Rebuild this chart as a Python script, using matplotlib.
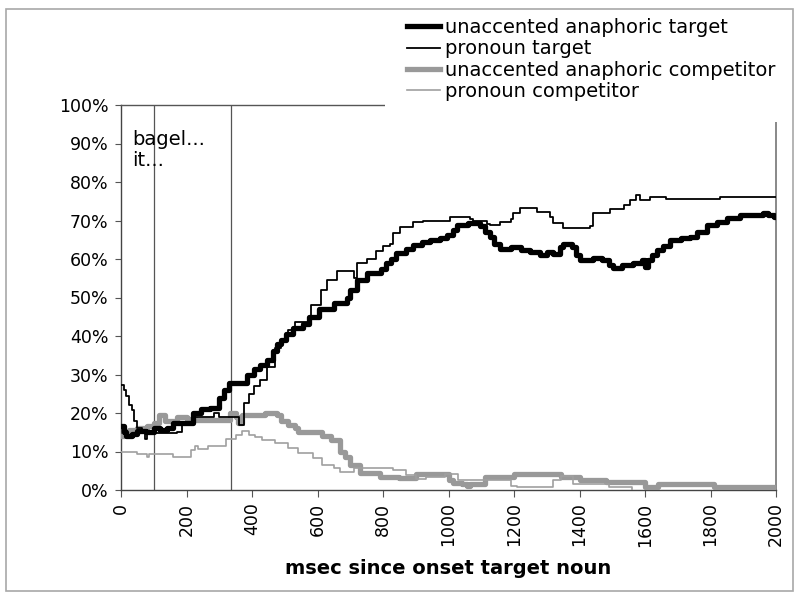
import matplotlib
matplotlib.use("Agg")
import matplotlib.pyplot as plt
from matplotlib.patches import Rectangle
from matplotlib.ticker import FuncFormatter

# ---- data (msec, percent); step functions ----
uaa_target_t = [0, 8, 15, 35, 50, 75, 100, 120, 140, 160, 220, 245, 272, 300, 315, 330, 385, 405, 425, 445,
                465, 475, 490, 505, 525, 555, 575, 605, 650, 690, 700, 720, 750, 795, 810, 825, 840, 870, 892,
                920, 943, 975, 995, 1015, 1026, 1060, 1096, 1110, 1127, 1140, 1157, 1190, 1220, 1250, 1279,
                1300, 1320, 1340, 1350, 1377, 1390, 1401, 1440, 1470, 1490, 1502, 1530, 1563, 1590, 1600,
                1608, 1620, 1636, 1656, 1676, 1710, 1737, 1760, 1789, 1820, 1850, 1890, 1960, 1975, 1995, 2000]
uaa_target_v = [16.5, 15, 14, 14.5, 15.2, 15, 16, 15.5, 16, 17.5, 20, 21, 21.3, 24, 26, 27.8, 30, 31.5, 32.5, 33.8,
                36, 38, 39, 40.5, 42, 43, 45, 47, 48.5, 50, 52, 54.5, 56.3, 57.5, 59, 60, 61.5, 62.5, 63.6,
                64.3, 65, 65.5, 66.2, 67.5, 68.8, 69.3, 68.5, 67, 65.7, 64, 62.5, 63, 62.3, 61.8, 61,
                61.7, 61.3, 63, 64, 63, 61, 59.7, 60.3, 59.7, 58.5, 57.6, 58.5, 59, 59.7, 57.8,
                59.7, 61, 62.3, 63.5, 65, 65.5, 65.7, 67, 68.8, 69.5, 70.6, 71.5, 72, 71.5, 71, 71]

pron_target_t = [0, 8, 15, 25, 33, 40, 48, 65, 72, 80, 88, 170, 185, 220, 285, 300, 333, 360, 375, 390, 405,
                 425, 445, 470, 490, 510, 530, 580, 610, 630, 660, 710, 720, 750, 780, 800, 820, 831, 852, 892,
                 922, 943, 1005, 1066, 1076, 1117, 1127, 1157, 1190, 1198, 1218, 1269, 1310, 1320, 1351, 1432,
                 1442, 1494, 1535, 1555, 1573, 1585, 1614, 1665, 1828, 2000]
pron_target_v = [27.3, 26, 24.5, 22, 20.8, 18, 16, 15.5, 13.2, 15, 14.8, 15, 17, 19, 20, 19, 19, 17, 22.6, 25, 27,
                 28.6, 32, 37, 39, 41.5, 43.6, 48, 52, 54.5, 57, 55, 59, 60, 62, 63.5, 64, 66.7, 68.3, 69.6,
                 69.8, 70, 71, 70.5, 70, 69, 68.8, 69.6, 70.5, 72, 73.2, 72.2, 71, 69.3, 68, 68.5,
                 72, 73, 74, 75.3, 76.6, 75.3, 76, 75.6, 76, 76]

uaa_comp_t = [0, 10, 25, 50, 80, 100, 115, 135, 170, 200, 230, 333, 350, 358, 370, 440, 475, 490, 510, 530,
              540, 615, 640, 670, 685, 700, 730, 790, 850, 900, 1000, 1015, 1040, 1055, 1065, 1110, 1200,
              1345, 1400, 1480, 1600, 1640, 1810, 2000]
uaa_comp_v = [14, 15, 15.5, 16, 16.5, 17.5, 19.5, 18, 19, 18.5, 18.2, 20, 19, 17.4, 19.4, 20, 19.5, 18, 17, 16,
              15, 14, 13, 10, 8.5, 6.5, 4.4, 3.5, 3, 4.1, 2.5, 1.8, 1.6, 1, 1.6, 3.4, 4.1,
              3.4, 2.6, 2.2, 0.9, 1.5, 0.9, 0.9]

pron_comp_t = [0, 50, 78, 85, 160, 215, 225, 235, 265, 320, 350, 370, 390, 410, 430, 470, 510, 540, 585, 615,
               650, 670, 710, 830, 870, 900, 930, 990, 1030, 1190, 1210, 1320, 1345, 1380, 1490, 1560]
pron_comp_v = [9.9, 9.3, 8.5, 9.3, 8.6, 10.5, 11.3, 10.6, 11.4, 13.2, 14.3, 15.3, 14.3, 13.7, 13, 12.2, 11, 9.6, 8.3, 6.5,
               5.7, 4.8, 5.7, 5.3, 3.9, 2.8, 3.5, 4.2, 2.6, 1.1, 0.8, 2.5, 3.6, 1.6, 0.7, 0]

labels = ["unaccented anaphoric target", "pronoun target",
          "unaccented anaphoric competitor", "pronoun competitor"]
x_ticks = [0, 200, 400, 600, 800, 1000, 1200, 1400, 1600, 1800, 2000]
y_ticks = [0, 10, 20, 30, 40, 50, 60, 70, 80, 90, 100]
markers_ms = [100, 336]
annotation = "bagel...\nit..."
xlabel = "msec since onset target noun"

plt.rcParams['font.family'] = ['DejaVu Sans']

W, H = 800, 599
fig = plt.figure(figsize=(8.0, 5.99), dpi=100)
ax = fig.add_axes([121 / W, 1 - 490 / H, (776 - 121) / W, (490 - 105) / H])

l1, = ax.plot(uaa_target_t, uaa_target_v, drawstyle='steps-post', color='black', lw=3.8,
              solid_joinstyle='round', zorder=4)
l2, = ax.plot(pron_target_t, pron_target_v, drawstyle='steps-post', color='black', lw=1.3, zorder=5)
l3, = ax.plot(uaa_comp_t, uaa_comp_v, drawstyle='steps-post', color='#999999', lw=3.8,
              solid_joinstyle='round', zorder=3)
l4, = ax.plot(pron_comp_t, pron_comp_v, drawstyle='steps-post', color='#a0a0a0', lw=1.2, zorder=3)

for m in markers_ms:
    ax.axvline(m, color='#555555', lw=0.9, zorder=2)

ax.text(35, 93.5, annotation, fontsize=14, va='top', ha='left', linespacing=1.1)

ax.set_xlim(0, 2000)
ax.set_ylim(0, 100)
ax.set_xticks(x_ticks)
ax.set_xticklabels([str(t) for t in x_ticks], rotation=90, fontsize=12.5)
ax.set_yticks(y_ticks)
ax.yaxis.set_major_formatter(FuncFormatter(lambda v, p: f"{int(v)}%"))
ax.tick_params(axis='y', labelsize=12.5, length=4, color='#555555', pad=5)
ax.tick_params(axis='x', length=5, color='#555555', pad=4)
ax.set_xlabel(xlabel, fontsize=14, fontweight='bold', labelpad=9)

ax.spines['left'].set_color('#444444')
ax.spines['bottom'].set_color('#444444')
ax.spines['top'].set_color('#555555')
ax.spines['right'].set_color('#888888')
ax.spines['right'].set_linewidth(1.4)
for s in ['left', 'bottom', 'top']:
    ax.spines[s].set_linewidth(1.0)

# white block behind the legend hiding part of the frame
fig.patches.append(Rectangle((385 / W, 1 - 122 / H), (792 - 385) / W, (122 - 12) / H,
                             transform=fig.transFigure, facecolor='white', edgecolor='none', zorder=4))
# outer border
fig.patches.append(Rectangle((6 / W, 1 - 591 / H), (793 - 6) / W, (591 - 9) / H,
                             transform=fig.transFigure, facecolor='none', edgecolor='#a8a8a8',
                             lw=1.2, zorder=6))

leg = fig.legend([l1, l2, l3, l4], labels, loc='upper left',
                 bbox_to_anchor=(407 / W, 1 - 18 / H), frameon=False, fontsize=14,
                 handlelength=1.7, handletextpad=0.25, labelspacing=0.12, borderaxespad=0,
                 borderpad=0)
leg.set_zorder(7)

fig.savefig("out.png", dpi=100, facecolor='white')
